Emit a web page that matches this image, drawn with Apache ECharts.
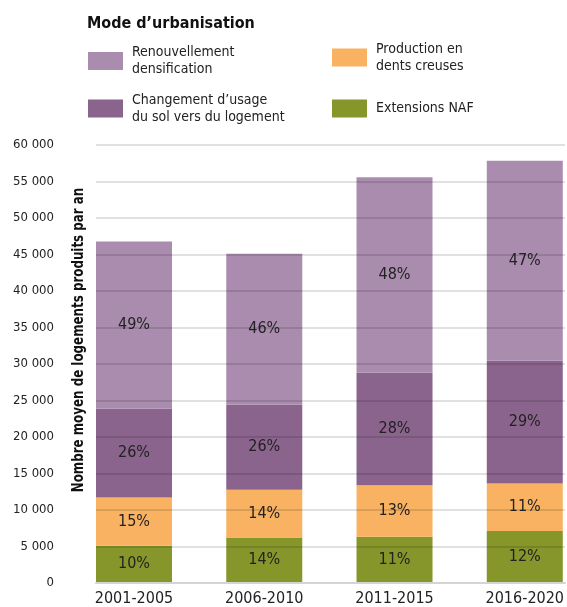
<!DOCTYPE html>
<html>
<head>
<meta charset="utf-8">
<script src="https://cdn.jsdelivr.net/npm/echarts@6/dist/echarts.min.js"></script>
<style>
html,body{margin:0;padding:0;background:#fff;}
#chart{width:567px;height:607px;}
</style>
</head>
<body>
<div id="chart"></div>
<script>
const categories = ['2001-2005', '2006-2010', '2011-2015', '2016-2020'];
const extensionsNAF = [4970, 6120, 6210, 6990];
const dentsCreuses = [6630, 6530, 7080, 6530];
const changementUsage = [12200, 11690, 15430, 16890];
const renouvellement = [22950, 20730, 26850, 27440];
const pctNAF = ['10%', '14%', '11%', '12%'];
const pctDents = ['15%', '14%', '13%', '11%'];
const pctChangement = ['26%', '26%', '28%', '29%'];
const pctRenouv = ['49%', '46%', '48%', '47%'];
const seriesNames = ['Extensions NAF', 'Production en dents creuses', 'Changement d\u2019usage du sol vers du logement', 'Renouvellement densification'];
const legendLines = {
  'Renouvellement densification': 'Renouvellement\ndensification',
  'Production en dents creuses': 'Production en\ndents creuses',
  'Changement d\u2019usage du sol vers du logement': 'Changement d\u2019usage\ndu sol vers du logement',
  'Extensions NAF': 'Extensions NAF'
};
const colors = ['#87962a', '#f8b262', '#8b648d', '#a98cae'];

const FONT = "'DejaVu Sans Condensed', 'Liberation Sans Narrow', sans-serif";
const chart = echarts.init(document.getElementById('chart'));

function mkSeries(name, data, pct, color) {
  return {
    name: name, type: 'bar', stack: 'total', xAxisIndex: 0, yAxisIndex: 0,
    barWidth: 76, data: data, z: 2, clip: false,
    itemStyle: { color: color },
    label: {
      show: true, position: 'inside', color: '#222', fontFamily: FONT, fontSize: 16,
      formatter: p => pct[p.dataIndex]
    }
  };
}

function mkLegend(name, left, top) {
  return {
    data: [name], left: left, top: top, padding: 0, orient: 'vertical',
    itemWidth: 35, itemHeight: 18, icon: 'rect', selectedMode: false,
    formatter: n => legendLines[n],
    textStyle: { fontFamily: FONT, fontSize: 14, lineHeight: 17, color: '#222', padding: [0, 0, 0, 4] }
  };
}

const fmtThousands = v => v === 0 ? '0' : (Math.floor(v / 1000) + ' ' + String(v % 1000).padStart(3, '0'));

chart.setOption({
  animation: false,
  backgroundColor: '#fff',
  color: colors,
  title: {
    text: 'Mode d\u2019urbanisation', left: 87, top: 16, padding: 0,
    textStyle: { fontFamily: FONT, fontSize: 16, fontWeight: 'bold', color: '#111' }
  },
  legend: [
    mkLegend(seriesNames[3], 88, 44),
    mkLegend(seriesNames[1], 332, 40.5),
    mkLegend(seriesNames[2], 88, 91.5),
    mkLegend(seriesNames[0], 332, 99.5)
  ],
  grid: [
    { left: 134, width: 393, top: 145, height: 438 },
    { left: 96, width: 469, top: 145, height: 438 }
  ],
  xAxis: [
    {
      type: 'category', gridIndex: 0, data: categories, boundaryGap: false,
      axisLine: { show: false }, axisTick: { show: false },
      axisLabel: { margin: 9, fontFamily: FONT, fontSize: 16, color: '#222' }
    },
    {
      type: 'value', gridIndex: 1, min: 0, max: 1,
      axisLine: { show: true, lineStyle: { color: '#d4d4d4', width: 2 } },
      axisTick: { show: false }, axisLabel: { show: false }, splitLine: { show: false }, z: 5
    }
  ],
  yAxis: [
    { type: 'value', gridIndex: 0, min: 0, max: 60000, show: false },
    {
      type: 'value', gridIndex: 1, min: 0, max: 60000, interval: 5000, z: 5,
      axisLine: { show: false }, axisTick: { show: false },
      axisLabel: { margin: 42, fontFamily: FONT, fontSize: 13, color: '#222', formatter: fmtThousands },
      splitLine: { show: true, lineStyle: { color: 'rgba(0,0,0,0.16)', width: 1.5 } }
    }
  ],
  graphic: [
    {
      type: 'text', x: 79, y: 340, rotation: Math.PI / 2, scaleX: 0.88,
      style: {
        text: 'Nombre moyen de logements produits par an',
        fontFamily: FONT, fontSize: 15, fontWeight: 'bold', fill: '#111',
        align: 'center', verticalAlign: 'middle'
      }
    }
  ],
  series: [
    mkSeries(seriesNames[0], extensionsNAF, pctNAF, colors[0]),
    mkSeries(seriesNames[1], dentsCreuses, pctDents, colors[1]),
    mkSeries(seriesNames[2], changementUsage, pctChangement, colors[2]),
    mkSeries(seriesNames[3], renouvellement, pctRenouv, colors[3])
  ]
});
</script>
</body>
</html>
